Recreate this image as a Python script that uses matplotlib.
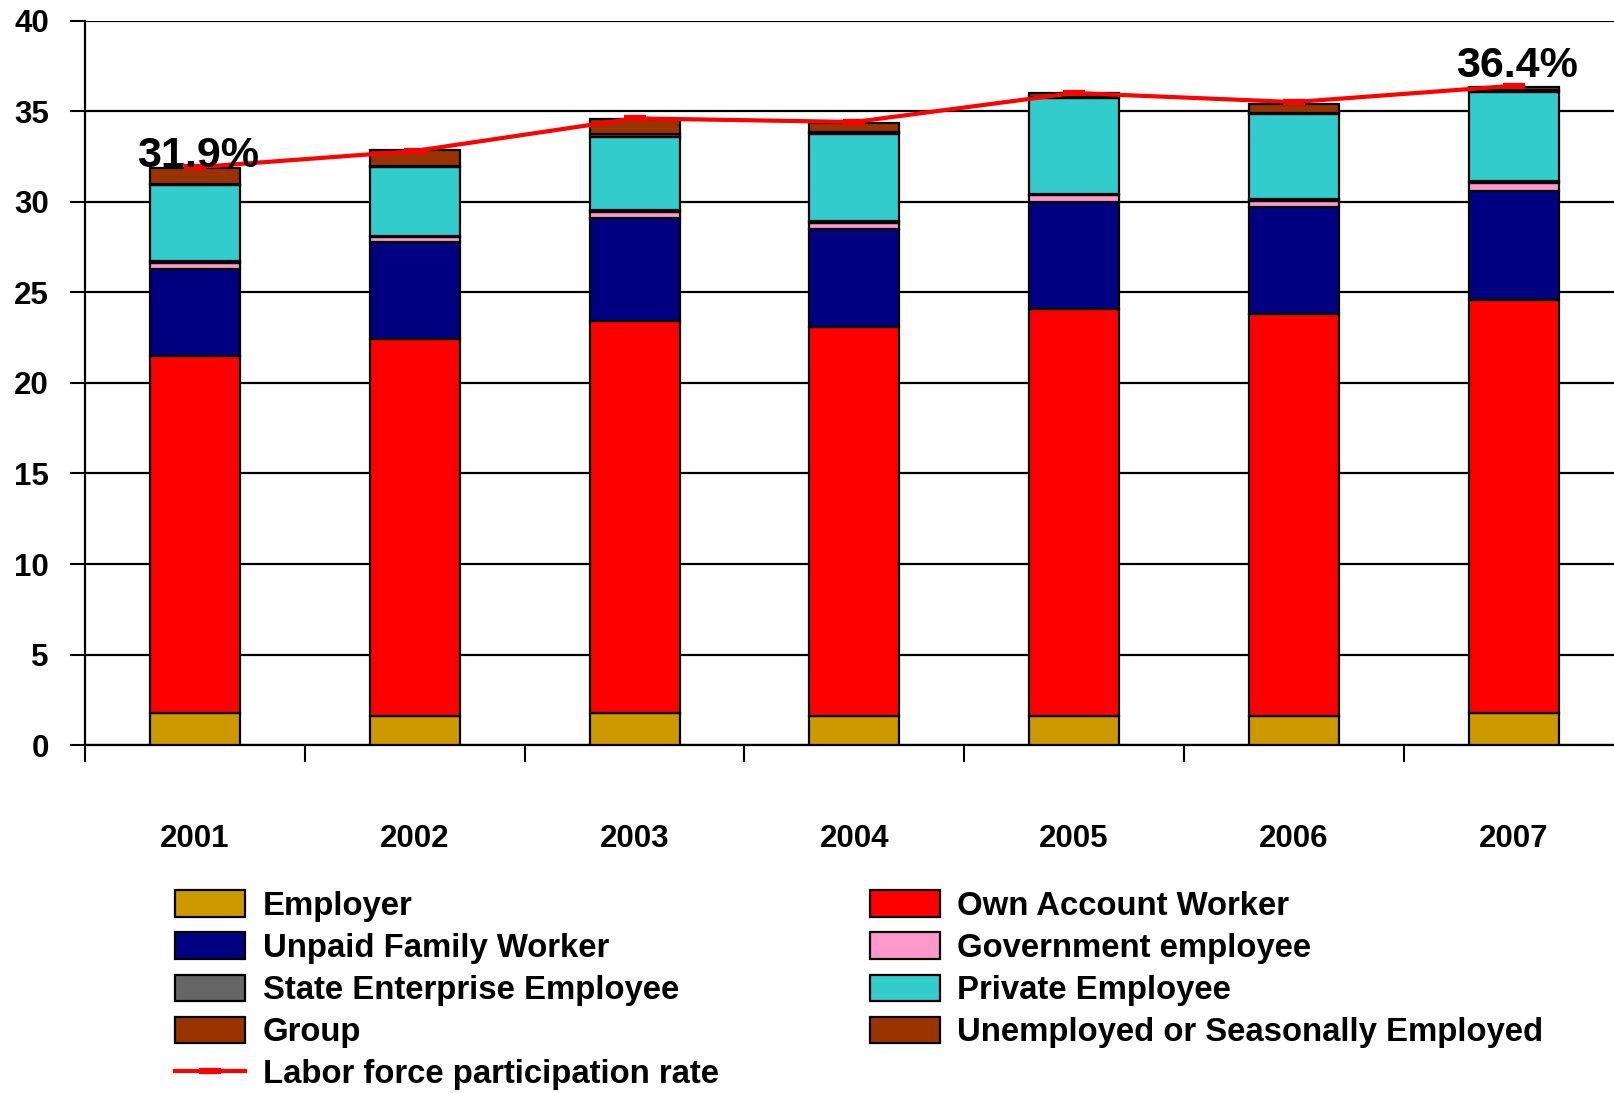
import matplotlib
matplotlib.use("Agg")
import matplotlib.pyplot as plt
import numpy as np
from matplotlib.patches import Patch
from matplotlib.lines import Line2D

plt.rcParams['font.family'] = ['Liberation Sans', 'DejaVu Sans']
plt.rcParams['font.weight'] = 'bold'

years = ['2001', '2002', '2003', '2004', '2005', '2006', '2007']
employer = [1.8, 1.6, 1.8, 1.6, 1.6, 1.6, 1.8]
own_account = [19.7, 20.8, 21.6, 21.5, 22.5, 22.2, 22.8]
unpaid_family = [4.8, 5.4, 5.7, 5.4, 5.9, 5.9, 6.0]
government = [0.3, 0.25, 0.35, 0.3, 0.35, 0.35, 0.45]
state_enterprise = [0.1, 0.05, 0.1, 0.15, 0.1, 0.1, 0.1]
private_employee = [4.2, 3.8, 4.0, 4.8, 5.25, 4.7, 4.9]
group = [0.1, 0.05, 0.2, 0.1, 0.1, 0.05, 0.1]
unemployed = [0.85, 0.9, 0.8, 0.5, 0.2, 0.5, 0.2]
participation_rate = [31.9, 32.8, 34.6, 34.4, 36.0, 35.5, 36.4]

series = [
    ("Employer", employer, "#CC9900"),
    ("Own Account Worker", own_account, "#FF0000"),
    ("Unpaid Family Worker", unpaid_family, "#000080"),
    ("Government employee", government, "#FF99CC"),
    ("State Enterprise Employee", state_enterprise, "#666666"),
    ("Private Employee", private_employee, "#33CCCC"),
    ("Group", group, "#993300"),
    ("Unemployed or Seasonally Employed", unemployed, "#993300"),
]

fig = plt.figure(figsize=(16.14, 10.93), dpi=100)
ax = fig.add_axes([0.0527, 0.3182, 0.9473, 0.663])

x = np.arange(len(years))
bottom = np.zeros(len(years))
handles = {}
for name, vals, color in series:
    vals = np.array(vals)
    ax.bar(x, vals, width=0.41, bottom=bottom, color=color,
           edgecolor='black', linewidth=1.6, zorder=3)
    bottom += vals
    handles[name] = Patch(facecolor=color, edgecolor='black', linewidth=1.6)

ax.plot(x, participation_rate, color='#FF0000', linewidth=3.0, zorder=5,
        marker='_', markersize=16, markeredgewidth=4.5, solid_joinstyle='miter')

# rate labels on the first and last year
for i, dy in ((0, 0), (len(years) - 1, 6.5)):
    ax.annotate(f"{participation_rate[i]}%", (x[i], participation_rate[i]),
                xytext=(2, dy), textcoords='offset points',
                ha='center', va='baseline', fontsize=31, fontweight='bold',
                zorder=6)

# category boundaries as major ticks, year labels as minor ticks at bar centres
ax.set_xticks(np.arange(-0.5, 7.0, 1.0))
ax.set_xticklabels([])
ax.set_xticks(x, minor=True)
ax.set_xticklabels(years, minor=True)
ax.set_yticks(np.arange(0, 41, 5))
ax.set_ylim(0, 40)
ax.set_xlim(-0.5, 6.456)
ax.yaxis.grid(True, color='black', linewidth=1.6, zorder=0)
ax.set_axisbelow(True)

ax.tick_params(axis='x', which='major', direction='out', length=12, width=1.5)
ax.tick_params(axis='x', which='minor', length=0, pad=57, labelsize=22.5)
ax.tick_params(axis='y', direction='out', length=11, width=1.5, pad=15,
               labelsize=22.5)
for lbl in ax.get_xticklabels(minor=True) + ax.get_yticklabels():
    lbl.set_fontweight('bold')

for side in ('top', 'right'):
    ax.spines[side].set_visible(False)
ax.spines['left'].set_linewidth(1.6)
ax.spines['bottom'].set_linewidth(1.6)

line_handle = Line2D([0], [0], color='#FF0000', linewidth=3.0, marker='_',
                     markersize=16, markeredgewidth=4.5)
order = ["Employer", "Unpaid Family Worker", "State Enterprise Employee",
         "Group", None, "Own Account Worker", "Government employee",
         "Private Employee", "Unemployed or Seasonally Employed"]
leg_handles = [handles[n] if n else line_handle for n in order]
leg_labels = [n if n else "Labor force participation rate" for n in order]
fig.legend(leg_handles, leg_labels, ncol=2, loc='upper left',
           bbox_to_anchor=(0.1084, 0.1855), frameon=False,
           prop={'size': 23.7, 'weight': 'bold'}, handlelength=2.13,
           handleheight=0.86, handletextpad=0.53, labelspacing=0.32,
           columnspacing=4.6, borderpad=0, borderaxespad=0)

fig.savefig("out.png", dpi=100)
